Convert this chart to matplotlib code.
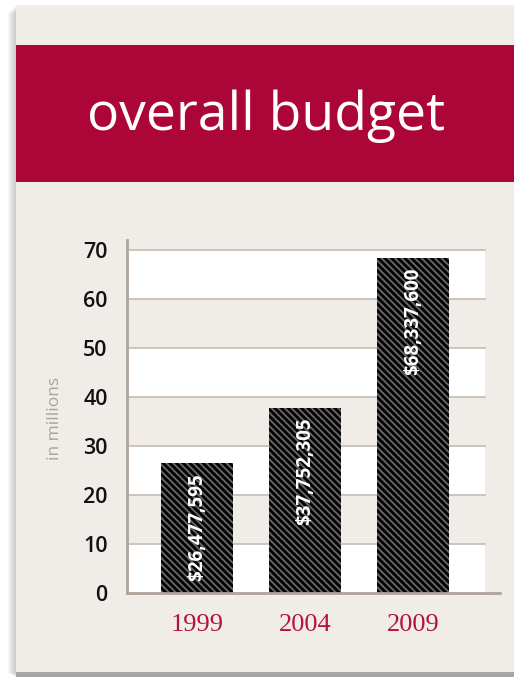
import matplotlib.pyplot as plt
from matplotlib.patches import Rectangle

# Data (in millions)
years = ["1999", "2004", "2009"]
budget = [26.477595, 37.752305, 68.3376]
labels = ["$26,477,595", "$37,752,305", "$68,337,600"]
yticks = [0, 10, 20, 30, 40, 50, 60, 70]

W, H = 514, 677
fig = plt.figure(figsize=(W / 100, H / 100), dpi=100)
fig.patch.set_facecolor("white")

def px_rect(x0, y0, x1, y1, **kw):
    # rectangle in pixel coords (top-left origin) -> figure fraction
    fig.patches.append(Rectangle((x0 / W, 1 - y1 / H), (x1 - x0) / W, (y1 - y0) / H,
                                 transform=fig.transFigure, figure=fig, **kw))

# soft shadow around the card
for i in range(8):
    px_rect(16 - 8 + i, 5 + 8 - i, 514, 672 + 1 + i * 0.5, facecolor="#8a8682",
            alpha=0.06, edgecolor="none", zorder=0)
px_rect(16, 672, 514, 677, facecolor="#a8a6a4", edgecolor="none", zorder=0.5)
px_rect(16, 5, 514, 672, facecolor="#f0ede9", edgecolor="none", zorder=1)
# red banner
px_rect(16, 45, 514, 182, facecolor="#ab0637", edgecolor="none", zorder=2)
fig.text(266 / W, 1 - 116 / H, "overall budget", color="white", fontsize=38.5,
         family="Open Sans", ha="center", va="center", zorder=3)

# chart
ax = fig.add_axes([127 / W, 1 - 593 / H, (500 - 127) / W, (593 - 240) / H])
ax.set_zorder(5)
ax.set_facecolor("#f0ede9")
ax.set_xlim(-0.648, 2.806)
ax.set_ylim(0, 72)

# alternating bands, white on even tens
band_right = (485 - 127) / (500 - 127)
for lo in yticks[:-1]:
    if (lo // 10) % 2 == 0:
        ax.axhspan(lo, lo + 10, xmin=0, xmax=band_right, color="white", lw=0, zorder=0)
for t in yticks[1:]:
    ax.axhline(t, xmin=0, xmax=band_right, color="#c9c0b8", lw=1.3, zorder=1)

plt.rcParams["hatch.linewidth"] = 2.0
plt.rcParams["hatch.color"] = "black"
x = range(len(years))
bars = ax.bar(x, budget, width=0.667, color="#666666", edgecolor="black",
              hatch="\\\\\\\\\\", lw=0, zorder=2)
for xi, v, lab in zip(x, budget, labels):
    ax.annotate(lab, (xi, v), xytext=(0, -7), textcoords="offset points",
                rotation=90, ha="center", va="top", color="white",
                fontsize=13.5, fontweight="bold", family="Open Sans", zorder=3)

for s in ["top", "right"]:
    ax.spines[s].set_visible(False)
for s in ["left", "bottom"]:
    ax.spines[s].set_color("#b0a49a")
    ax.spines[s].set_linewidth(2)

ax.set_yticks(yticks)
ax.set_yticklabels([str(t) for t in yticks], fontsize=15.5, family="Open Sans",
                   fontweight="semibold", color="#111111")
ax.tick_params(axis="y", length=0, pad=14)
ax.set_xticks(list(x))
ax.set_xticklabels(years, fontsize=19, family="Liberation Serif", color="#b3123f")
ax.tick_params(axis="x", length=0, pad=15)

fig.text(55 / W, 1 - 418 / H, "in millions", rotation=90, color="#aaa29b",
         fontsize=12.5, family="Open Sans", ha="center", va="center")

fig.savefig("out.png", dpi=100)
